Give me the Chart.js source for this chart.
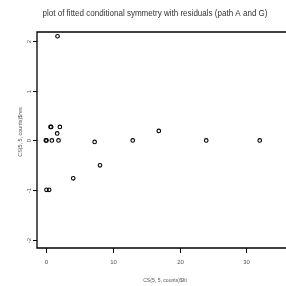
<!DOCTYPE html>
<html>
<head>
<meta charset="utf-8">
<script src="https://cdn.jsdelivr.net/npm/chart.js@4/dist/chart.umd.min.js"></script>
<style>
  html, body { margin: 0; padding: 0; background: #fff; overflow: hidden; }
  #wrap { width: 286px; height: 286px; }
</style>
</head>
<body>
<div id="wrap"><canvas id="myChart"></canvas></div>
<script>
// fitted values and residuals
var fitVals = [1.75, 0, 0.1, 0.7, 0.8, 2.1, 1.7, 0.9, 1.9, 7.3, 8.1, 4.1, 0.1, 0.5, 16.9, 13.0, 24.0, 32.0];
var resVals = [2.09, 0, 0, 0.27, 0.27, 0.27, 0.14, 0, 0, -0.03, -0.5, -0.76, -0.99, -0.99, 0.19, 0, 0, 0];
var xTicks = [0, 10, 20, 30];
var yTicks = [-2, -1, 0, 1, 2];

var titleText = 'plot of fitted conditional symmetry with residuals (path A and G)';
var xTitle = 'CS(5, 5, counts)$fit';
var yTitle = 'CS(5, 5, counts)$res';

var points = fitVals.map(function (v, i) { return { x: v, y: resVals[i] }; });

// draws the R-style box, ticks and labels
var rAxes = {
    id: 'rAxes',
    afterDraw: function (chart) {
        var ctx = chart.ctx;
        var a = chart.chartArea;
        var xs = chart.scales.x, ys = chart.scales.y;
        ctx.save();
        ctx.strokeStyle = '#000';
        ctx.lineWidth = 1.3;
        ctx.beginPath();
        ctx.moveTo(chart.width + 2, a.top);
        ctx.lineTo(a.left, a.top);
        ctx.lineTo(a.left, a.bottom);
        ctx.lineTo(chart.width + 2, a.bottom);
        ctx.stroke();

        ctx.lineWidth = 1;
        ctx.fillStyle = '#555';
        ctx.font = '6px "Liberation Sans"';
        ctx.textAlign = 'center';
        ctx.textBaseline = 'middle';
        xTicks.forEach(function (t) {
            var px = Math.round(xs.getPixelForValue(t)) + 0.5;
            ctx.beginPath();
            ctx.moveTo(px, a.bottom);
            ctx.lineTo(px, a.bottom + 5);
            ctx.stroke();
            ctx.fillText(String(t), px, a.bottom + 14);
        });
        yTicks.forEach(function (t) {
            var py = Math.round(ys.getPixelForValue(t)) + 0.5;
            ctx.beginPath();
            ctx.moveTo(a.left, py);
            ctx.lineTo(a.left - 4, py);
            ctx.stroke();
            ctx.save();
            ctx.translate(a.left - 8, py);
            ctx.rotate(-Math.PI / 2);
            ctx.fillText(String(t), 0, 0);
            ctx.restore();
        });

        // axis titles
        ctx.save();
        ctx.translate(165, 280);
        ctx.scale(0.85, 1);
        ctx.fillText(xTitle, 0, 0);
        ctx.restore();
        ctx.save();
        ctx.translate(20.5, 132);
        ctx.rotate(-Math.PI / 2);
        ctx.scale(0.9, 1);
        ctx.fillText(yTitle, 0, 0);
        ctx.restore();

        // main title
        ctx.fillStyle = '#333';
        ctx.font = '9px "Liberation Sans"';
        var w = ctx.measureText(titleText).width;
        ctx.save();
        ctx.translate(155, 14);
        ctx.scale(225 / w, 1);
        ctx.fillText(titleText, 0, 0);
        ctx.restore();
        ctx.restore();
    }
};

var ctx = document.getElementById('myChart').getContext('2d');
var myChart = new Chart(ctx, {
    type: 'scatter',
    data: {
        datasets: [{
            data: points,
            pointStyle: 'circle',
            pointRadius: 1.8,
            pointBorderWidth: 1.1,
            borderColor: '#000',
            backgroundColor: 'rgba(0,0,0,0)'
        }]
    },
    options: {
        responsive: true,
        maintainAspectRatio: false,
        animation: false,
        layout: { padding: { left: 37, top: 32, right: 0, bottom: 38 } },
        plugins: {
            legend: { display: false },
            tooltip: { enabled: false }
        },
        scales: {
            x: { type: 'linear', display: false, min: -1.32, max: 35.17 },
            y: { type: 'linear', display: false, min: -2.158, max: 2.175 }
        }
    },
    plugins: [rAxes]
});
</script>
</body>
</html>
